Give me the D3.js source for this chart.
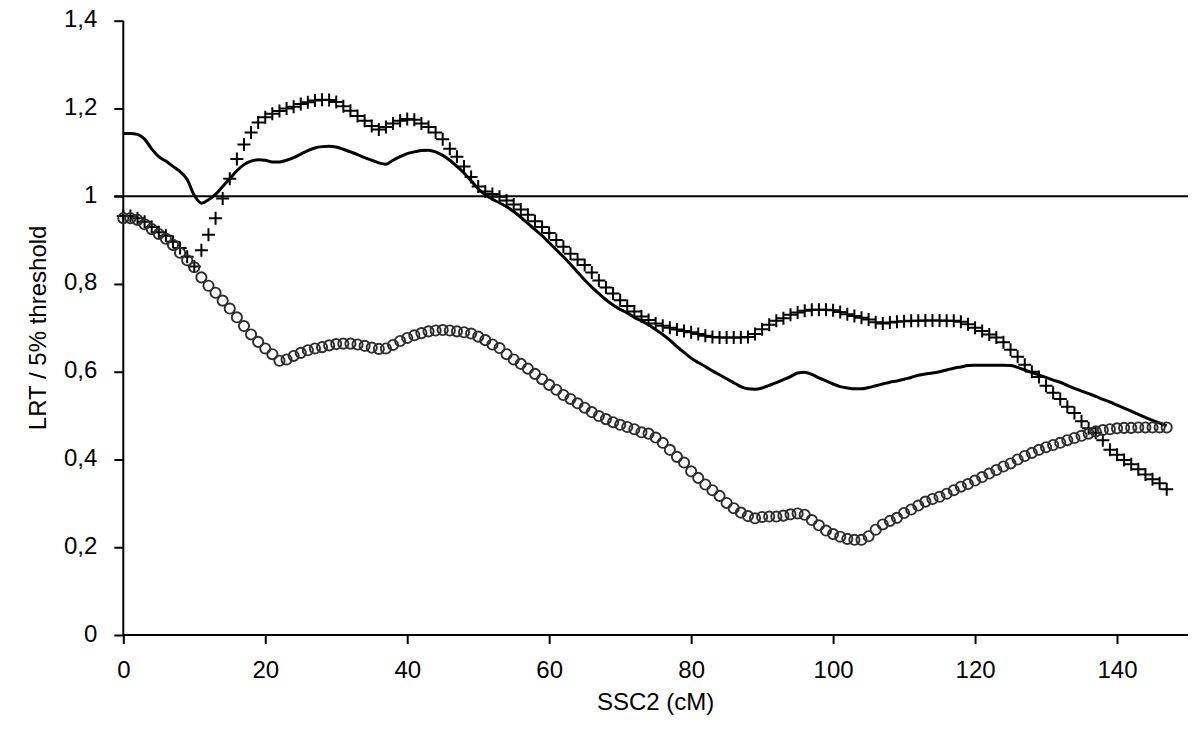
<!DOCTYPE html>
<html>
<head>
<meta charset="utf-8">
<script src="https://cdn.jsdelivr.net/npm/d3@7"></script>
<style>
  html, body { margin: 0; padding: 0; background: #fff; }
  svg { display: block; }
  text { font-family: "Liberation Sans", Arial, sans-serif; fill: #000; }
</style>
</head>
<body>
<svg id="chart" width="1200" height="742"></svg>
<script>
// ---- data ----
const positions = d3.range(0, 148); // cM, one value per cM
const xTicks = [0, 20, 40, 60, 80, 100, 120, 140];
const xTickLabels = ["0", "20", "40", "60", "80", "100", "120", "140"];
const yTicks = [0, 0.2, 0.4, 0.6, 0.8, 1, 1.2, 1.4];
const yTickLabels = ["0", "0,2", "0,4", "0,6", "0,8", "1", "1,2", "1,4"];
const threshold = 1;

const solidSeries = [
1.143,1.143,1.141,1.130,1.108,1.090,1.080,1.068,1.056,1.038,
1.002,0.984,0.992,1.004,1.022,1.040,1.058,1.072,1.080,1.083,
1.082,1.078,1.078,1.082,1.088,1.096,1.104,1.110,1.113,1.114,
1.112,1.107,1.101,1.095,1.088,1.082,1.076,1.073,1.082,1.090,
1.097,1.101,1.104,1.105,1.101,1.093,1.082,1.068,1.053,1.035,
1.017,1.003,0.993,0.985,0.976,0.965,0.952,0.938,0.924,0.910,
0.894,0.878,0.862,0.845,0.827,0.809,0.793,0.778,0.764,0.752,
0.742,0.734,0.724,0.716,0.707,0.696,0.685,0.672,0.657,0.644,
0.631,0.621,0.612,0.602,0.593,0.584,0.575,0.566,0.561,0.560,
0.563,0.569,0.575,0.582,0.589,0.597,0.599,0.594,0.586,0.579,
0.572,0.566,0.563,0.561,0.561,0.564,0.568,0.572,0.576,0.579,
0.583,0.587,0.592,0.595,0.597,0.600,0.604,0.608,0.611,0.614,
0.615,0.615,0.615,0.615,0.615,0.614,0.610,0.604,0.598,0.593,
0.587,0.581,0.576,0.569,0.562,0.556,0.550,0.544,0.537,0.531,
0.524,0.517,0.510,0.503,0.496,0.489,0.483,0.477];

const plusSeries = [
0.955,0.955,0.950,0.942,0.930,0.918,0.910,0.896,0.882,0.862,
0.840,0.877,0.912,0.950,0.995,1.040,1.085,1.118,1.145,1.168,
1.180,1.188,1.194,1.200,1.204,1.210,1.214,1.218,1.220,1.219,
1.215,1.205,1.195,1.183,1.172,1.160,1.152,1.158,1.166,1.172,
1.176,1.174,1.166,1.158,1.145,1.130,1.108,1.090,1.068,1.044,
1.022,1.011,1.005,0.999,0.990,0.981,0.970,0.958,0.943,0.930,
0.916,0.900,0.885,0.869,0.856,0.843,0.826,0.808,0.792,0.778,
0.763,0.750,0.737,0.726,0.718,0.710,0.705,0.700,0.696,0.693,
0.690,0.686,0.682,0.679,0.678,0.678,0.678,0.678,0.679,0.686,
0.697,0.707,0.716,0.722,0.730,0.735,0.739,0.741,0.741,0.741,
0.740,0.736,0.731,0.727,0.723,0.719,0.713,0.710,0.712,0.714,
0.715,0.716,0.716,0.717,0.717,0.717,0.716,0.716,0.714,0.708,
0.700,0.693,0.685,0.678,0.667,0.650,0.634,0.616,0.600,0.588,
0.568,0.552,0.538,0.520,0.506,0.487,0.471,0.461,0.444,0.422,
0.411,0.399,0.389,0.378,0.366,0.355,0.346,0.332];

const circleSeries = [
0.950,0.950,0.946,0.936,0.925,0.914,0.903,0.889,0.871,0.854,
0.838,0.815,0.796,0.780,0.762,0.744,0.724,0.704,0.685,0.668,
0.653,0.640,0.625,0.628,0.636,0.643,0.649,0.653,0.656,0.660,
0.663,0.664,0.664,0.662,0.659,0.655,0.652,0.653,0.661,0.670,
0.677,0.683,0.688,0.692,0.694,0.695,0.694,0.692,0.690,0.687,
0.680,0.672,0.662,0.654,0.640,0.628,0.618,0.607,0.595,0.583,
0.570,0.559,0.547,0.538,0.528,0.518,0.508,0.499,0.492,0.485,
0.479,0.474,0.469,0.462,0.459,0.450,0.438,0.422,0.406,0.393,
0.373,0.358,0.343,0.330,0.317,0.301,0.289,0.279,0.271,0.266,
0.269,0.270,0.270,0.272,0.275,0.277,0.274,0.262,0.250,0.238,
0.230,0.224,0.219,0.217,0.217,0.225,0.240,0.252,0.260,0.267,
0.278,0.286,0.295,0.304,0.310,0.315,0.322,0.330,0.338,0.344,
0.352,0.360,0.368,0.376,0.384,0.391,0.400,0.408,0.415,0.422,
0.428,0.433,0.438,0.444,0.449,0.454,0.459,0.464,0.467,0.469,
0.471,0.472,0.472,0.473,0.473,0.473,0.473,0.473];

// ---- layout ----
const svg = d3.select("#chart");
const plotLeft = 123.3, plotRight = 1188, plotTop = 20.7, plotBottom = 635;

const x = d3.scaleLinear().domain([0, 150]).range([plotLeft, plotRight]);
const y = d3.scaleLinear().domain([0, 1.4]).range([plotBottom, plotTop]);

// threshold line
svg.append("line")
  .attr("x1", x(0) - 9).attr("x2", x(150))
  .attr("y1", y(threshold)).attr("y2", y(threshold))
  .attr("stroke", "#000").attr("stroke-width", 2);

// axes
const yAxis = d3.axisLeft(y).tickValues(yTicks)
  .tickFormat((d, i) => yTickLabels[i]).tickSize(9).tickPadding(17);
const gy = svg.append("g").attr("transform", `translate(${plotLeft},0)`).call(yAxis);
const xAxis = d3.axisBottom(x).tickValues(xTicks)
  .tickFormat((d, i) => xTickLabels[i]).tickSize(9).tickPadding(17);
const gx = svg.append("g").attr("transform", `translate(0,${plotBottom})`).call(xAxis);

[gx, gy].forEach(g => {
  g.select(".domain").attr("stroke", "#000").attr("stroke-width", 2);
  g.selectAll(".tick line").attr("stroke", "#000").attr("stroke-width", 2);
  g.selectAll(".tick text").style("font-size", "24px")
    .style("font-family", '"Liberation Sans", Arial, sans-serif').attr("fill", "#000");
});
gx.select(".domain").attr("d", `M${plotLeft},0H${plotRight}`);
gy.select(".domain").attr("d", `M0,${plotBottom}V${plotTop}`);
gy.selectAll(".tick text").attr("dy", "0.25em");
gx.selectAll(".tick text").attr("dy", "0.7em");

// solid line
const line = d3.line()
  .x((d, i) => x(positions[i]))
  .y(d => y(d))
  .curve(d3.curveMonotoneX);
svg.append("path")
  .datum(solidSeries)
  .attr("d", line)
  .attr("fill", "none")
  .attr("stroke", "#000")
  .attr("stroke-width", 3)
  .attr("stroke-linejoin", "round");

// plus markers
svg.append("g").selectAll("path")
  .data(plusSeries)
  .join("path")
  .attr("transform", (d, i) => `translate(${x(positions[i])},${y(d)})`)
  .attr("d", "M-6.5,0H6.5M0,-6.5V6.5")
  .attr("stroke", "#000")
  .attr("stroke-width", 2)
  .attr("fill", "none");

// circle markers
svg.append("g").selectAll("circle")
  .data(circleSeries)
  .join("circle")
  .attr("cx", (d, i) => x(positions[i]))
  .attr("cy", d => y(d))
  .attr("r", 5.1)
  .attr("fill", "none")
  .attr("stroke", "#2e2e2e")
  .attr("stroke-width", 1.9);

// axis titles
svg.append("text")
  .attr("x", (plotLeft + plotRight) / 2)
  .attr("y", 710)
  .attr("text-anchor", "middle")
  .style("font-size", "24px")
  .text("SSC2 (cM)");

svg.append("text")
  .attr("transform", `translate(46,${(plotTop + plotBottom) / 2}) rotate(-90)`)
  .attr("text-anchor", "middle")
  .style("font-size", "24px")
  .text("LRT / 5% threshold");
</script>
</body>
</html>
